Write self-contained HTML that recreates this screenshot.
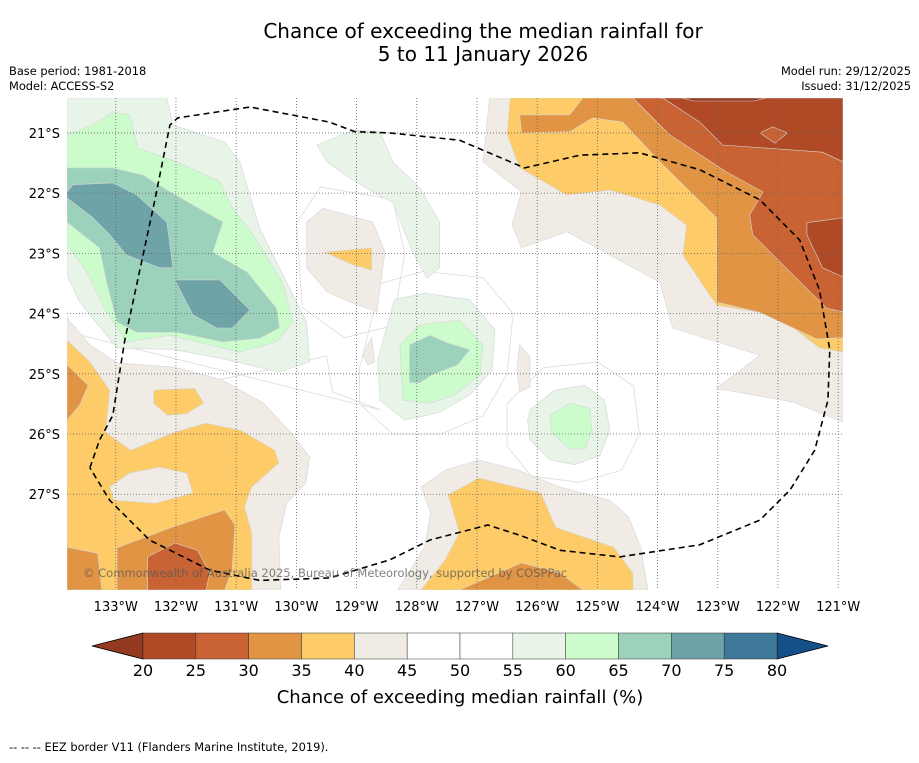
<!DOCTYPE html>
<html><head><meta charset="utf-8">
<style>
html,body{margin:0;padding:0;background:#fff;}
body{width:919px;height:758px;overflow:hidden;font-family:"Liberation Sans","DejaVu Sans",sans-serif;}
svg text{font-family:"DejaVu Sans","Liberation Sans",sans-serif;}
</style></head>
<body>
<svg id="chart" width="919" height="758" viewBox="0 0 919 758">
<g id="texts">
<text x="483" y="38" font-size="20" text-anchor="middle" fill="#000">Chance of exceeding the median rainfall for</text>
<text x="483" y="61" font-size="20" text-anchor="middle" fill="#000">5 to 11 January 2026</text>
<text x="9" y="75" font-size="11.4" fill="#000">Base period: 1981-2018</text>
<text x="9" y="90" font-size="11.4" fill="#000">Model: ACCESS-S2</text>
<text x="911" y="75" font-size="11.4" text-anchor="end" fill="#000">Model run: 29/12/2025</text>
<text x="911" y="90" font-size="11.4" text-anchor="end" fill="#000">Issued: 31/12/2025</text>
<text x="9" y="751" font-size="11.4" fill="#000">--  --  -- EEZ border V11 (Flanders Marine Institute, 2019).</text>
</g>
<defs><clipPath id="mapclip"><rect x="67" y="98" width="776" height="492"/></clipPath></defs>
<g id="map" clip-path="url(#mapclip)"></g>
<g id="axes"></g>
<g id="cbar"></g>
</svg>
<script>
// Colour levels (chance %)
const levels = [20,25,30,35,40,45,50,55,60,65,70,75,80];
const levelColors = ["#b04a26","#c96334","#e09444","#fdcb67","#f0ebe5","#ffffff","#ffffff","#e8f4e8","#ccfccc","#9cd1bb","#6ea3a7","#3e7898"];
const underColor = "#943a21";
const overColor = "#16508a";
const lonTicks = [133,132,131,130,129,128,127,126,125,124,123,122,121];
const latTicks = [21,22,23,24,25,26,27];
// Map extent (deg W, deg S)
const lonMin = 133.81, lonMax = 120.92, latMin = 20.42, latMax = 28.59;
// Contour regions: [lower level of band, flat list of lon,lat]
const regions = [
 [40,[126.79,20.42,126.90,21.48,126.26,21.98,126.42,22.53,126.26,22.91,125.51,22.64,125.01,22.91,123.96,23.48,123.75,24.24,122.30,24.69,123.02,25.24,121.75,25.47,120.92,25.80,120.92,20.42]],
 [35,[126.45,20.42,126.50,21.03,126.29,21.58,125.51,22.03,124.79,21.95,123.96,22.20,123.52,22.53,123.58,23.03,123.02,23.86,122.02,24.03,121.31,24.57,120.92,24.64,120.92,20.42]],
 [30,[125.24,20.42,125.46,20.70,126.29,20.70,126.26,21.00,125.46,20.98,125.08,20.75,124.58,20.82,123.96,21.48,123.02,22.41,123.02,23.81,122.30,23.98,121.36,24.42,120.92,24.40,120.92,20.42]],
 [25,[124.41,20.42,123.80,21.03,122.85,21.65,122.25,21.98,122.47,22.36,122.42,22.69,121.97,23.14,121.19,23.91,120.92,23.97,120.92,20.42]],
 [20,[123.91,20.42,123.30,20.82,122.92,21.20,121.26,21.32,120.92,21.48,120.92,20.42]],
 [25,[122.30,21.00,122.09,20.90,121.84,21.00,122.05,21.17]],
 [20,[121.52,22.49,121.52,22.69,121.26,23.24,120.92,23.39,120.92,22.41]],
 [15,[123.60,20.42,122.20,20.42,122.40,20.47,123.40,20.47]],
 [40,[126.29,24.52,126.12,24.72,126.12,25.22,126.29,25.30,126.34,24.92]],
 [55,[133.81,20.42,132.15,20.42,132.05,20.87,131.19,21.15,130.94,21.48,130.61,22.58,130.16,23.48,129.83,24.14,129.78,24.80,130.28,24.97,131.27,24.74,132.02,24.60,132.98,24.57,133.60,23.81,133.81,23.36]],
 [60,[133.81,21.03,133.38,20.87,133.05,20.65,132.77,20.70,132.63,21.25,131.99,21.48,131.27,21.81,131.06,22.25,130.72,22.69,130.23,23.48,130.06,24.14,130.33,24.47,130.94,24.64,132.10,24.36,132.82,24.47,133.15,23.97,133.48,23.31,133.81,22.86]],
 [65,[133.81,21.58,133.05,21.58,132.55,21.70,132.10,21.98,131.22,22.48,131.39,22.98,130.82,23.31,130.33,23.91,130.28,24.24,130.61,24.41,131.22,24.47,131.99,24.31,132.65,24.31,132.98,24.14,133.15,23.48,133.27,22.91,133.81,22.48]],
 [70,[133.81,21.98,133.71,21.86,133.05,21.83,132.65,22.03,132.15,22.48,132.05,23.24,132.27,23.24,132.82,23.03,133.10,22.69,133.38,22.41,133.81,22.08]],
 [70,[132.02,23.44,131.27,23.44,130.77,23.94,131.06,24.24,131.32,24.24,131.72,24.02]],
 [55,[129.66,21.20,129.06,20.95,128.61,20.98,128.40,21.48,127.95,21.91,127.62,22.48,127.62,23.24,127.83,23.41,128.07,22.98,128.40,22.15,128.73,21.98,129.11,21.75,129.49,21.48]],
 [40,[129.83,22.48,129.56,22.25,128.73,22.48,128.53,22.98,128.66,23.97,129.11,23.81,129.49,23.64,129.83,23.24]],
 [35,[129.53,22.98,128.75,22.91,128.75,23.28,129.06,23.19]],
 [40,[128.90,24.69,128.75,24.39,128.70,24.80,128.81,24.85]],
 [55,[128.65,24.77,128.37,23.77,127.87,23.66,127.12,23.77,126.70,24.27,126.75,24.94,127.12,25.35,127.62,25.64,128.20,25.77,128.61,25.44]],
 [60,[128.28,24.52,127.95,24.19,127.29,24.11,126.90,24.52,126.95,25.02,127.37,25.35,127.78,25.49,128.23,25.44]],
 [65,[128.12,24.52,127.78,24.36,127.48,24.49,127.12,24.60,127.32,24.85,127.75,25.02,127.95,25.15,128.12,25.15]],
 [55,[126.12,25.60,125.71,25.27,125.21,25.19,124.88,25.44,124.79,25.94,124.96,26.36,125.38,26.51,125.79,26.43,126.12,26.10,126.16,25.77]],
 [60,[125.79,25.69,125.46,25.49,125.13,25.57,125.09,25.94,125.21,26.25,125.46,26.25,125.76,25.97]],
 [40,[133.81,24.07,133.43,24.52,132.97,24.82,132.02,24.89,131.24,25.10,130.54,25.49,130.09,25.98,129.78,26.38,129.84,26.81,130.16,27.15,130.29,27.71,130.26,28.59,133.81,28.59]],
 [35,[133.81,24.44,133.43,24.80,133.10,25.27,133.17,25.97,132.75,26.27,132.02,25.97,131.50,25.82,130.92,25.94,130.36,26.27,130.29,26.48,130.74,26.88,130.86,27.21,130.74,27.64,130.74,28.59,133.81,28.59]],
 [30,[133.81,24.85,133.46,25.19,133.60,25.52,133.81,25.77]],
 [40,[133.10,26.88,132.78,26.65,132.27,26.55,131.82,26.65,131.72,26.98,132.34,27.15,133.03,27.10]],
 [35,[132.37,25.27,131.69,25.24,131.54,25.49,131.82,25.66,132.14,25.69,132.37,25.49]],
 [30,[133.81,27.88,133.30,27.98,133.23,28.59,133.81,28.59]],
 [30,[132.98,27.89,132.10,27.56,131.19,27.26,131.02,27.51,131.07,28.26,131.19,28.59,132.98,28.59]],
 [25,[132.47,28.04,132.02,27.81,131.64,27.93,131.44,28.31,131.50,28.59,132.47,28.59]],
 [40,[128.32,28.59,127.87,27.88,127.77,27.31,127.93,26.88,127.53,26.60,126.97,26.43,126.32,26.60,125.62,26.88,124.79,27.10,124.48,27.38,124.28,27.88,124.16,28.59]],
 [35,[127.48,27.01,126.97,26.73,125.94,26.98,125.69,27.55,124.73,27.88,124.41,28.31,124.41,28.59,127.93,28.59,127.53,28.09,127.29,27.64]],
 [30,[127.29,28.59,126.26,28.14,125.62,28.31,125.24,28.59]]
];
// Unfilled 45/50 contour lines
const contourLines = [
 [128.95,24.9,128.6,23.5,127.9,23.3,126.9,23.4,126.4,24.0,126.5,25.0,126.9,25.7,127.6,26.0,128.4,26.0,128.95,25.5],
 [126.5,25.5,125.9,24.9,125.0,24.8,124.4,25.2,124.3,26.0,124.6,26.6,125.3,26.8,126.1,26.7,126.5,26.2],
 [130.0,22.5,129.6,21.9,128.4,22.1,128.2,23.0,128.4,24.2,129.2,24.4,129.9,23.9],
 [133.81,24.3,133.3,24.9,132.5,25.1,131.3,25.1,130.3,24.9,129.5,24.7,129.4,25.3,128.6,25.6]
];
const eezBorder = [133.43,26.56,133.27,26.10,133.05,25.69,132.85,24.44,132.60,23.28,132.35,22.11,132.10,20.87,131.97,20.75,130.77,20.57,129.45,20.82,129.03,20.98,128.45,21.00,127.29,21.12,126.21,21.58,125.29,21.37,124.30,21.33,123.30,21.61,122.30,22.11,121.64,22.78,121.31,23.61,121.14,24.60,121.17,25.44,121.39,26.27,121.80,26.93,122.30,27.43,123.30,27.84,124.63,28.04,125.62,27.93,126.29,27.68,126.82,27.51,127.78,27.76,128.45,28.09,129.45,28.39,130.61,28.43,131.44,28.26,132.44,27.76,133.10,27.10,133.43,26.56];

const NS = "http://www.w3.org/2000/svg";
const X0=67, X1=843, Y0=98, Y1=590;
function xs(lon){return X0+(lonMin-lon)/(lonMin-lonMax)*(X1-X0);}
function ys(lat){return Y0+(lat-latMin)/(latMax-latMin)*(Y1-Y0);}
function colorFor(lv){ if(lv<levels[0]) return underColor; const i=levels.indexOf(lv); return i>=0&&i<levelColors.length?levelColors[i]:overColor;}
function mk(tag,attrs,parent){const e=document.createElementNS(NS,tag);for(const k in attrs)e.setAttribute(k,attrs[k]);parent.appendChild(e);return e;}
function pts(a){let s=[];for(let i=0;i<a.length;i+=2)s.push(xs(a[i]).toFixed(1)+","+ys(a[i+1]).toFixed(1));return s.join(" ");}

const map=document.getElementById("map");
const bg=mk("rect",{x:X0,y:Y0,width:X1-X0,height:Y1-Y0,fill:"#fff"},map);


contourLines.forEach(c=>{
  const l=mk("polygon",{points:pts(c),fill:"none",stroke:"#dcdcdc","stroke-width":"0.8"},map);
  
  
});
regions.forEach((r,i)=>{
  const p=mk("polygon",{points:pts(r[1]),fill:colorFor(r[0]),stroke:"#d6d6d6","stroke-width":"0.6","stroke-linejoin":"round"},map);
  
  
});
lonTicks.forEach(l=>{
  const g=mk("line",{x1:xs(l),x2:xs(l),y1:Y0,y2:Y1,stroke:"#666","stroke-width":"0.8","stroke-dasharray":"1,2"},map);
  
  
});
latTicks.forEach(l=>{
  const g=mk("line",{x1:X0,x2:X1,y1:ys(l),y2:ys(l),stroke:"#666","stroke-width":"0.8","stroke-dasharray":"1,2"},map);
  
  
});
const eez=mk("polyline",{points:pts(eezBorder),fill:"none",stroke:"#000","stroke-width":"1.6","stroke-dasharray":"6,4"},map);


const cp=mk("text",{x:83,y:577,"font-size":"11.5",fill:"#555","fill-opacity":"0.75"},map);
cp.textContent="© Commonwealth of Australia 2025, Bureau of Meteorology, supported by COSPPac";



const axes=document.getElementById("axes");
lonTicks.forEach(l=>{
  const t=mk("text",{x:xs(l),y:611,"font-size":"13","text-anchor":"middle",fill:"#000"},axes);
  t.textContent=l+"°W";
  
  
});
latTicks.forEach(l=>{
  const t=mk("text",{x:60,y:ys(l)+5,"font-size":"13","text-anchor":"end",fill:"#000"},axes);
  t.textContent=l+"°S";
  
  
});

const cb=document.getElementById("cbar");
const CX0=143, CX1=777, CY0=633, CY1=659;
function cx(v){return CX0+(v-levels[0])/(levels[levels.length-1]-levels[0])*(CX1-CX0);}
const under=mk("polygon",{points:`${cx(levels[0])},${CY0} 92,${(CY0+CY1)/2} ${cx(levels[0])},${CY1}`,fill:underColor,stroke:"#000","stroke-width":"0.8"},cb);


const over=mk("polygon",{points:`${cx(levels[levels.length-1])},${CY0} 828,${(CY0+CY1)/2} ${cx(levels[levels.length-1])},${CY1}`,fill:overColor,stroke:"#000","stroke-width":"0.8"},cb);


for(let i=0;i<levelColors.length;i++){
  const r=mk("rect",{x:cx(levels[i]),y:CY0,width:cx(levels[i+1])-cx(levels[i]),height:CY1-CY0,fill:levelColors[i],stroke:"#333","stroke-width":"0.5"},cb);
  
  
}
levels.forEach(v=>{
  const t=mk("text",{x:cx(v),y:676,"font-size":"16","text-anchor":"middle",fill:"#000"},cb);
  t.textContent=v;
  
  
});
const ct=mk("text",{x:460,y:703,"font-size":"18","text-anchor":"middle",fill:"#000"},cb);
ct.textContent="Chance of exceeding median rainfall (%)";


</script>
</body></html>
